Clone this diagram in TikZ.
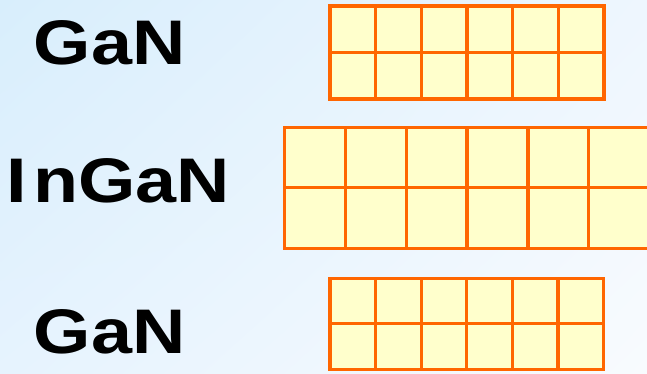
\documentclass[tikz,border=0pt]{standalone}
\usepackage{fontspec}
\setmainfont{Liberation Sans}
\usetikzlibrary{shadings}
\definecolor{gridline}{HTML}{FF6600}
\definecolor{cellfill}{HTML}{FFFFCC}
\definecolor{bgTL}{HTML}{D8EEFC}
\definecolor{bgTR}{HTML}{EEF6FE}
\definecolor{bgBL}{HTML}{E6F3FE}
\definecolor{bgBR}{HTML}{F8FBFE}
\tikzset{
  layerlabel/.style={anchor=base west, inner sep=0pt, font=\fontsize{63}{70}\selectfont\bfseries},
  cellgrid/.style={draw=gridline, fill=cellfill, line width=3.3pt}
}
\begin{document}
\begin{tikzpicture}[x=1pt,y=-1pt]
\useasboundingbox (0,0) rectangle (647,374);
\clip (0,0) rectangle (647,374);
\shade[upper left=bgTL, upper right=bgTR, lower left=bgBL, lower right=bgBR] (0,0) rectangle (647,374);
% labels
\node[layerlabel] (gan1) at (33.7,65) {\scalebox{1.17}[1]{GaN}};
\node[layerlabel] (ingan) at (5.9,202) {\scalebox{1.17}[1]{I\kern6pt nGaN}};
\node[layerlabel] (gan2) at (33.7,353) {\scalebox{1.17}[1]{GaN}};
% top GaN grid
\foreach \i in {0,...,5} {
  \foreach \j in {0,1} {
    \draw[cellgrid] ({330+\i*45.67},{6+\j*46.5}) rectangle ++(45.67,46.5);
  }
}
% InGaN grid
\foreach \i in {0,...,5} {
  \foreach \j in {0,1} {
    \draw[cellgrid] ({284.7+\i*60.8},{127.3+\j*60.5}) rectangle ++(60.8,60.5);
  }
}
% bottom GaN grid
\foreach \i in {0,...,5} {
  \foreach \j in {0,1} {
    \draw[cellgrid] ({330+\i*45.58},{278.3+\j*45.5}) rectangle ++(45.58,45.5);
  }
}
\end{tikzpicture}
\end{document}
